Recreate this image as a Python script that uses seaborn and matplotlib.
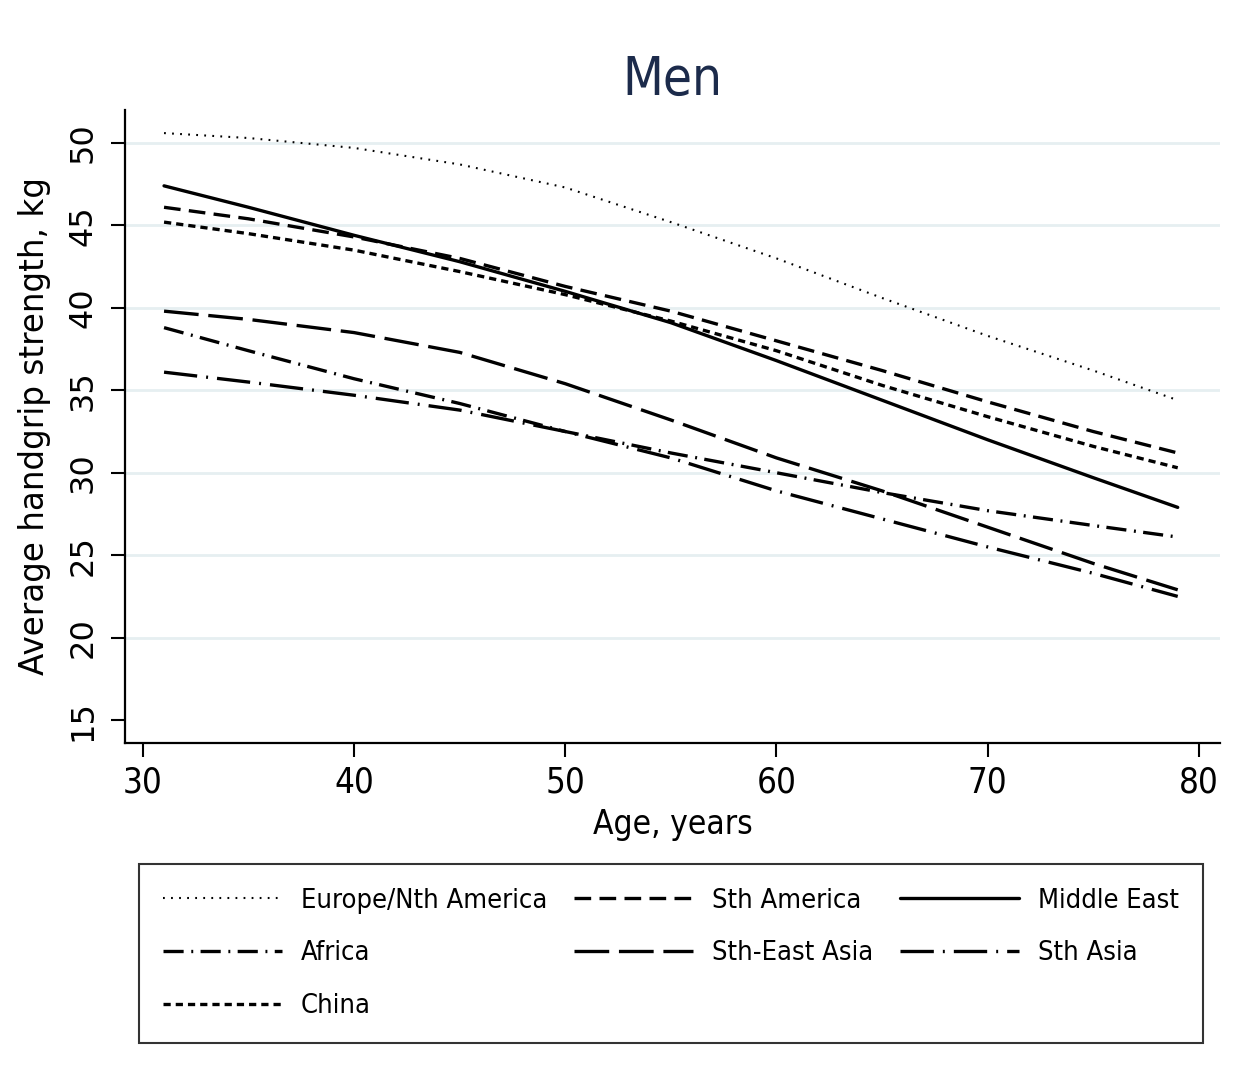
import matplotlib
matplotlib.use("Agg")
import matplotlib.pyplot as plt
from matplotlib import font_manager as fm
import seaborn as sns
import pandas as pd

# ---- data ----
ages = [31, 35, 40, 45, 50, 55, 60, 65, 70, 75, 79]
europe_nth_america = [50.6, 50.3, 49.7, 48.7, 47.3, 45.2, 43.0, 40.6, 38.3, 36.2, 34.4]
sth_america = [46.1, 45.4, 44.3, 43.0, 41.3, 39.8, 38.0, 36.2, 34.3, 32.5, 31.2]
middle_east = [47.4, 46.1, 44.4, 42.8, 41.0, 39.1, 36.8, 34.4, 32.0, 29.7, 27.9]
africa = [38.8, 37.4, 35.7, 34.2, 32.5, 31.2, 30.0, 28.8, 27.7, 26.8, 26.1]
sth_east_asia = [39.8, 39.3, 38.5, 37.3, 35.4, 33.2, 30.9, 28.9, 26.7, 24.5, 22.9]
sth_asia = [36.1, 35.5, 34.7, 33.8, 32.5, 30.9, 28.9, 27.2, 25.5, 23.9, 22.5]
china = [45.2, 44.5, 43.5, 42.2, 40.8, 39.2, 37.4, 35.3, 33.4, 31.6, 30.3]

regions = ["Europe/Nth America", "Sth America", "Middle East",
           "Africa", "Sth-East Asia", "Sth Asia", "China"]
series = [europe_nth_america, sth_america, middle_east,
          africa, sth_east_asia, sth_asia, china]

x_ticks = [30, 40, 50, 60, 70, 80]
y_ticks = [15, 20, 25, 30, 35, 40, 45, 50]

title = "Men"
x_label = "Age, years"
y_label = "Average handgrip strength, kg"

# ---- styles ----
styles = {
    "Europe/Nth America": dict(lw=1.5, ls=(0, (1.3, 4.5))),
    "Sth America": dict(lw=2.4, ls=(0, (12, 6))),
    "Middle East": dict(lw=2.4, ls="-"),
    "Africa": dict(lw=2.4, ls=(0, (14.5, 5.5, 1.4, 5.3))),
    "Sth-East Asia": dict(lw=2.4, ls=(0, (25, 7))),
    "Sth Asia": dict(lw=2.4, ls=(0, (24, 6.5, 1.4, 6.5))),
    "China": dict(lw=2.4, ls=(0, (5.2, 3.6))),
}

sns.set_theme(style="white")
plt.rcParams["font.family"] = ["Liberation Sans", "DejaVu Sans"]
plt.rcParams["lines.scale_dashes"] = False
for k in ["text.color", "axes.labelcolor", "xtick.color", "ytick.color"]:
    plt.rcParams[k] = "black"


def pick_narrow():
    cands = [dict(family="Liberation Sans Narrow"),
             dict(family="DejaVu Sans", stretch="condensed")]
    for c in cands:
        fp = fm.FontProperties(**c)
        try:
            path = fm.findfont(fp, fallback_to_default=False)
        except Exception:
            continue
        if "Narrow" in path or "Condensed" in path:
            return c
    return dict(family="Liberation Sans")


NARROW = pick_narrow()


def nfont(size):
    return fm.FontProperties(size=size, **NARROW)


df = pd.DataFrame({
    "age": ages * len(regions),
    "strength": [v for s in series for v in s],
    "region": [r for r in regions for _ in ages],
})

fig = plt.figure(figsize=(12.46, 10.88), dpi=100)
ax = fig.add_axes([0.1003, 0.3171, 0.8788, 0.5818])

handles = {}
for r in regions:
    sub = df[df["region"] == r]
    st = styles[r]
    sns.lineplot(data=sub, x="age", y="strength", ax=ax, color="black",
                 linewidth=st["lw"], linestyle=st["ls"], label=r, legend=False)
    handles[r] = ax.get_lines()[-1]

ax.set_xlim(29.15, 81.0)
ax.set_ylim(13.61, 52.0)
ax.set_xticks(x_ticks)
ax.set_yticks(y_ticks)

ax.yaxis.grid(True, color="#e6eff1", linewidth=2.0)
ax.xaxis.grid(False)
ax.set_axisbelow(True)
ax.yaxis.get_gridlines()[0].set_visible(False)

for side in ["top", "right"]:
    ax.spines[side].set_visible(False)
for side in ["left", "bottom"]:
    ax.spines[side].set_color("black")
    ax.spines[side].set_linewidth(1.6)

ax.tick_params(axis="both", which="major", direction="out", length=10, width=1.5,
               color="black", left=True, bottom=True, labelcolor="black")
ax.tick_params(axis="x", pad=6)
ax.tick_params(axis="y", pad=9)
for lab in ax.get_xticklabels():
    lab.set_fontproperties(nfont(25))
for lab in ax.get_yticklabels():
    lab.set_fontproperties(fm.FontProperties(family="DejaVu Sans", size=23))
    lab.set_rotation(90)
    lab.set_va("center")

ax.set_title(title, fontproperties=nfont(38), color="#1c2b4b", pad=11)
ax.set_xlabel(x_label, fontproperties=nfont(24), labelpad=6)
ax.set_ylabel(y_label, fontproperties=fm.FontProperties(family="DejaVu Sans", size=23.5),
              labelpad=12)

order = ["Europe/Nth America", "Africa", "China",
         "Sth America", "Sth-East Asia",
         "Middle East", "Sth Asia"]
leg = fig.legend([handles[r] for r in order], order,
                 loc="center", ncol=3, mode="expand",
                 bbox_to_anchor=(0.1116, 0.0423, 0.8539, 0.1627),
                 bbox_transform=fig.transFigure,
                 prop=nfont(19.5),
                 frameon=True, fancybox=False, shadow=False,
                 handlelength=4.4, handletextpad=0.7, labelspacing=0.98,
                 borderpad=0.88, borderaxespad=0)
leg.get_frame().set_edgecolor("black")
leg.get_frame().set_linewidth(1.5)
for t in leg.get_texts():
    t.set_color("black")

fig.savefig("out.png", dpi=100, facecolor="white")
